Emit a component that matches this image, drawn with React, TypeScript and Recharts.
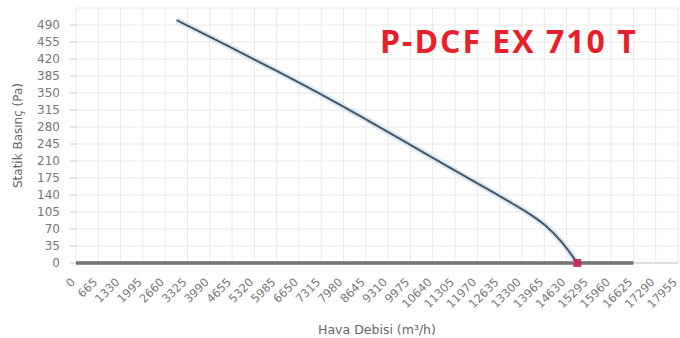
import { CartesianGrid, Line, LineChart, XAxis, YAxis } from "recharts";

const flowTicks = Array.from({ length: 28 }, (_, i) => i * 665);
const pressureTicks = [0, 35, 70, 105, 140, 175, 210, 245, 280, 315, 350, 385, 420, 455, 490];

// fan curve
const flows = [3000, 4500, 6000, 7500, 9000, 10500, 12000, 13000, 13500, 14000, 14500, 14950];
const pressures = [500, 448, 395, 340, 282, 222, 163, 123, 102, 77, 42, 0];

// zero line along the axis
const baseFlows = [0, 16625];
const basePressures = [0, 0];

const curve = flows.map((f, i) => ({ flow: f, pa: pressures[i] }));
const base = baseFlows.map((f, i) => ({ flow: f, pa: basePressures[i] }));

const FONT = "'DejaVu Sans', sans-serif";
const LABEL = "#777";

function FlowTick({ x, y, payload }: any) {
  return (
    <g transform={`translate(${x - 3},${y + 9})`}>
      <text
        x={0}
        y={0}
        dy="0.35em"
        textAnchor="end"
        transform="rotate(-45)"
        fontSize={11.5}
        fontFamily={FONT}
        fill={LABEL}
      >
        {payload.value}
      </text>
    </g>
  );
}

function EndDot({ cx, cy, index }: any) {
  if (index !== curve.length - 1) return null;
  return <rect key="end" x={cx - 4} y={cy - 4} width={8} height={8} fill="#c8245e" opacity={0.9} />;
}

export default function App() {
  return (
    <div style={{ position: "absolute", left: 0, top: 0, width: 680, height: 338, background: "#fff" }}>
      <LineChart width={680} height={338} margin={{ top: 8, right: 2, left: 0, bottom: 0 }}>
        <CartesianGrid stroke="#e8e8e8" strokeWidth={1} />
        <XAxis
          type="number"
          dataKey="flow"
          domain={[0, 17955]}
          ticks={flowTicks}
          interval={0}
          tick={<FlowTick />}
          tickLine={false}
          axisLine={{ stroke: "#c8c8c8" }}
          height={75}
          label={{
            value: "Hava Debisi (m³/h)",
            position: "insideBottom",
            offset: 4,
            fontSize: 12.5,
            fontFamily: FONT,
            fill: "#666",
          }}
        />
        <YAxis
          type="number"
          dataKey="pa"
          domain={[0, 525]}
          ticks={pressureTicks}
          interval={0}
          width={76}
          axisLine={false}
          tickLine={{ stroke: "#c8c8c8" }}
          tickSize={6}
          tickMargin={10}
          tick={{ fontSize: 12, fontFamily: FONT, fill: LABEL }}
          label={{
            value: "Statik Basınç (Pa)",
            angle: -90,
            position: "insideLeft",
            offset: 18,
            style: { textAnchor: "middle" },
            fontSize: 12,
            fontFamily: FONT,
            fill: "#666",
          }}
        />
        <Line
          data={base}
          dataKey="pa"
          type="linear"
          stroke="#222"
          strokeWidth={3}
          dot={false}
          activeDot={false}
          isAnimationActive={false}
        />
        <Line
          data={curve}
          dataKey="pa"
          type="monotone"
          stroke="#d6e8f5"
          strokeWidth={6}
          dot={false}
          activeDot={false}
          isAnimationActive={false}
        />
        <Line
          data={curve}
          dataKey="pa"
          type="monotone"
          stroke="#4a5560"
          strokeWidth={2}
          dot={<EndDot />}
          activeDot={false}
          isAnimationActive={false}
        />
      </LineChart>
      <div
        style={{
          position: "absolute",
          left: 380,
          top: 19,
          fontFamily: "'Open Sans', sans-serif",
          fontWeight: 700,
          fontSize: 32,
          color: "#e8202a",
          whiteSpace: "nowrap",
          letterSpacing: 2,
        }}
      >
        P-DCF EX 710 T
      </div>
    </div>
  );
}
